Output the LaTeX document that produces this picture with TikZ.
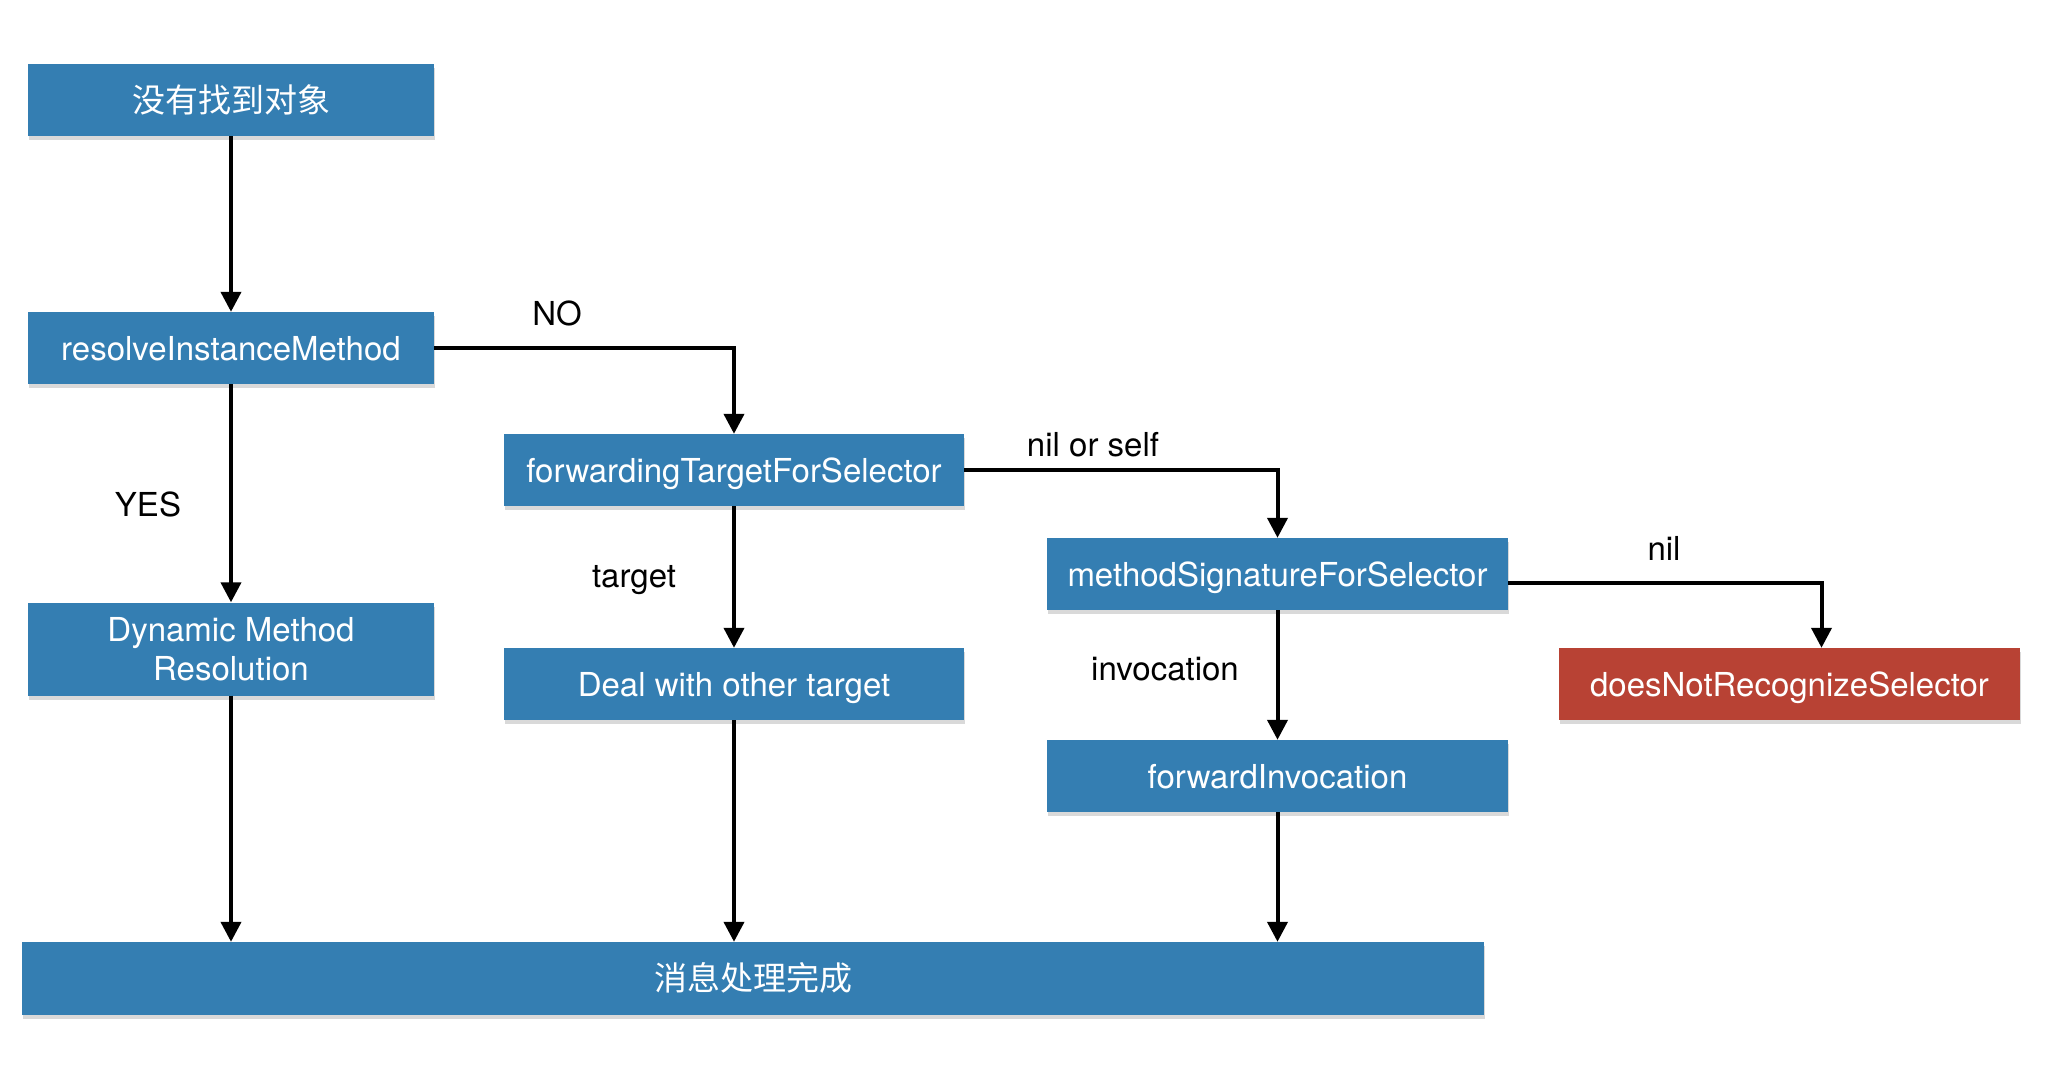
\documentclass[tikz,border=0pt]{standalone}
\usepackage{fontspec}
\setmainfont{TeX Gyre Heros}
\newfontfamily\cjk{Noto Sans CJK SC}
\usetikzlibrary{arrows.meta,shadows}
\definecolor{boxblue}{RGB}{52,126,178}
\definecolor{boxred}{RGB}{184,66,52}

\begin{document}
\begin{tikzpicture}[x=1pt,y=-1pt,
  every node/.style={font=\fontsize{33}{39}\selectfont, text height=24pt, text depth=0pt},
  stage/.style={fill=boxblue, text=white, minimum height=72pt, inner sep=0pt, align=center,
    drop shadow={shadow xshift=1pt, shadow yshift=-4pt, opacity=.3}},
  flow/.style={line width=4pt, -{Triangle[width=20pt,length=20pt]}}]
\useasboundingbox (0,0) rectangle (2054,1072);

\node[stage, minimum width=406pt] (lost) at (231,100) {\cjk 没有找到对象};
\node[stage, minimum width=406pt] (resolve) at (231,348) {resolveInstanceMethod};
\node[stage, minimum width=406pt, minimum height=93pt, text height=, text depth=] (dynamic) at (231,649) {Dynamic Method\\Resolution};
\node[stage, minimum width=460pt] (fwdtarget) at (734,470) {forwardingTargetForSelector};
\node[stage, minimum width=460pt] (other) at (734,684) {Deal with other target};
\node[stage, minimum width=461pt] (signature) at (1277.5,574) {methodSignatureForSelector};
\node[stage, minimum width=461pt] (invoke) at (1277.5,776) {forwardInvocation};
\node[stage, minimum width=461pt, fill=boxred] (notrecog) at (1789.5,684) {doesNotRecognizeSelector};
\node[stage, minimum width=1462pt, minimum height=73pt] (done) at (753,978.5) {\cjk 消息处理完成};

\node (no) at (557,313) {NO};
\node (yes) at (148,504) {YES};
\node (target) at (634,575) {target};
\node (nilself) at (1093,444) {nil or self};
\node (invocation) at (1165,668) {invocation};
\node (nil) at (1664,548) {nil};

\draw[flow] (lost) -- (resolve);
\draw[flow] (resolve) -- (dynamic);
\draw[flow] (dynamic.south) -- (dynamic.south |- done.north);
\draw[flow] (resolve.east) -| (fwdtarget.north);
\draw[flow] (fwdtarget) -- (other);
\draw[flow] (other.south) -- (other.south |- done.north);
\draw[flow] (fwdtarget.east) -| (signature.north);
\draw[flow] (signature) -- (invoke);
\draw[flow] (invoke.south) -- (invoke.south |- done.north);
\draw[flow] ([yshift=-9pt]signature.east) -| ([xshift=32pt]notrecog.north);
\end{tikzpicture}
\end{document}
